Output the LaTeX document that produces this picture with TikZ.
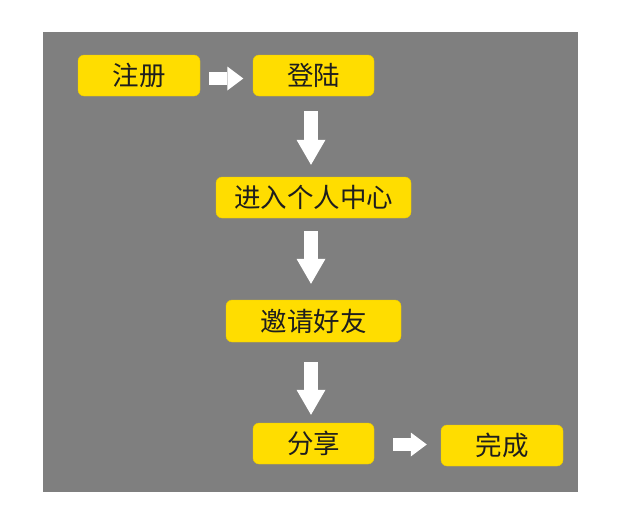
\documentclass[tikz,border=0pt]{standalone}
\usepackage{fontspec}
\newfontfamily\cjk{Noto Sans CJK SC}
\usetikzlibrary{arrows.meta}
\definecolor{bggray}{HTML}{7F7F7F}
\definecolor{boxyellow}{HTML}{FFDD00}
\definecolor{txt}{HTML}{1E1E1E}
\tikzset{
  stepbox/.style={fill=boxyellow, draw=boxyellow!92!black, line width=0.4pt, rounded corners=6pt,
    inner sep=0pt, minimum height=41pt, text=txt, font=\cjk\fontsize{26.5}{28}\selectfont},
  downarrow/.style={draw=white, line width=14pt,
    -{Triangle[width=29pt,length=25pt,line width=0pt,fill=white]}},
  rightarrow/.style={draw=white, line width=13pt,
    -{Triangle[width=24pt,length=16pt,line width=0pt,fill=white]}},
}
\begin{document}
\begin{tikzpicture}[x=1pt,y=-1pt]
\useasboundingbox (0,0) rectangle (640,528);
\fill[bggray] (43,32) rectangle (578,492);
\node[stepbox, minimum width=122pt] (reg) at (139,75.5) {注册};
\node[stepbox, minimum width=121pt] (login) at (313.5,75.5) {登陆};
\node[stepbox, minimum width=195pt] (center) at (313.5,197.5) {进入个人中心};
\node[stepbox, minimum width=175pt, minimum height=42pt] (invite) at (313.5,321) {邀请好友};
\node[stepbox, minimum width=121pt] (share) at (313.5,443.5) {分享};
\node[stepbox, minimum width=122pt] (done) at (502,445.5) {完成};
\draw[rightarrow, shorten <=9pt, shorten >=9.5pt] ([yshift=-3pt]reg.east) -- ([yshift=-3pt]reg.east -| login.west);
\draw[downarrow, shorten <=15pt, shorten >=12pt] ([xshift=-2.5pt]login.south) -- ([xshift=-2.5pt]center.north);
\draw[downarrow, shorten <=13pt, shorten >=16pt] ([xshift=-2.5pt]center.south) -- ([xshift=-2.5pt]invite.north);
\draw[downarrow, shorten <=20pt, shorten >=8pt] ([xshift=-2.5pt]invite.south) -- ([xshift=-2.5pt]share.north);
\draw[rightarrow, shorten <=19pt, shorten >=14pt] ([yshift=-1pt]share.east) -- ([yshift=-1pt]share.east -| done.west);
\end{tikzpicture}
\end{document}
